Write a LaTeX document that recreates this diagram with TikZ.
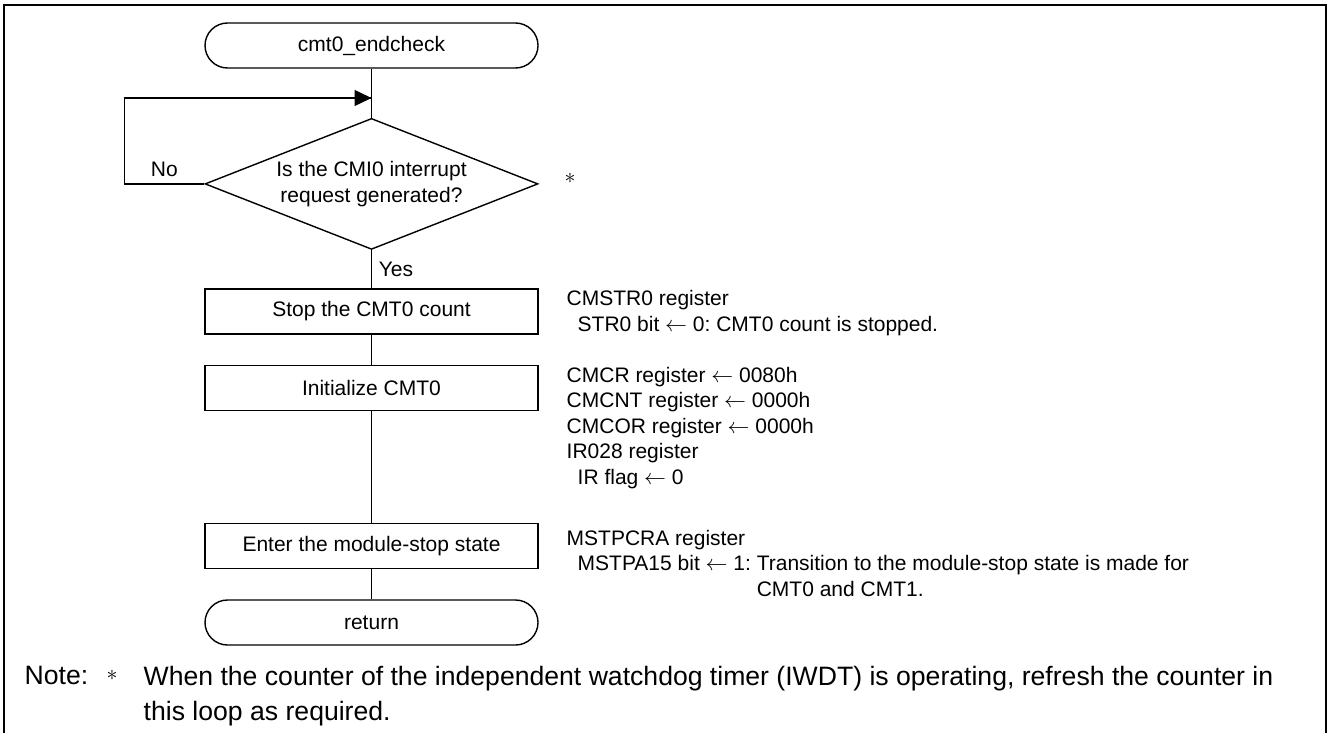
\documentclass[tikz,border=0pt]{standalone}
\usepackage{fontspec}
\setmainfont{Liberation Sans}
\frenchspacing
\usetikzlibrary{positioning, shapes.geometric, arrows.meta}

\begin{document}
\begin{tikzpicture}[x=0.5pt, y=0.5pt, node distance=15pt, line width=0.7pt,
    font=\fontsize{10.5}{12.7}\selectfont,
    term/.style={draw, rounded corners=11.25pt, minimum width=166.5pt, minimum height=22.5pt, inner sep=0pt},
    proc/.style={draw, minimum width=166.5pt, minimum height=22.5pt, inner sep=0pt},
    decision/.style={draw, diamond, aspect=2.54, minimum width=166.5pt, minimum height=65.5pt, inner sep=0pt, align=center},
    remark/.style={anchor=north west, align=left, inner sep=0pt},
    footnote/.style={remark, font=\fontsize{13.3}{17.5}\selectfont}]
			\useasboundingbox (0,0) rectangle (1328,-733);
			\draw[line width=1.3pt] (4,-5) rectangle (1326,-760);

			% Nodes
			\node (Start) [term] at (371.5,-45.5) {cmt0\_endcheck};
			\node (Check) [decision, below=24.5pt of Start] {Is the CMI0 interrupt\\request generated?};
			\node (StopCnt) [proc, below=19pt of Check] {Stop the CMT0 count};
			\node (InitCmt) [proc, below=of StopCnt] {Initialize CMT0};
			\node (ModStop) [proc, below=56pt of InitCmt] {Enter the module-stop state};
			\node (Return) [term, below=of ModStop] {return};
			\coordinate (LoopIn) at (371.5,-98);
			\node (Star) at (570,-178) {$\ast$};

			% Register notes
			\node (NoteStop) [remark] at (566,-290) {CMSTR0 register\\\hspace*{5.5pt}STR0 bit $\leftarrow$ 0: CMT0 count is stopped.};
			\node (NoteInit) [remark] at (566,-366.5) {CMCR register $\leftarrow$ 0080h\\CMCNT register $\leftarrow$ 0000h\\CMCOR register $\leftarrow$ 0000h\\IR028 register\\\hspace*{5.5pt}IR flag $\leftarrow$ 0};
			\node (NoteMod) [remark] at (566,-529.5) {MSTPCRA register\\\hspace*{5.5pt}MSTPA15 bit $\leftarrow$ 1: Transition to the module-stop state is made for\\\hspace*{5.5pt}\phantom{MSTPA15 bit $\leftarrow$ 1: }CMT0 and CMT1.};

			% Footnote
			\node (NoteLbl) [footnote] at (24,-665.5) {Note:};
			\node (NoteStar) at (112,-675) {$\ast$};
			\node (NoteText) [footnote] at (143,-665.5) {When the counter of the independent watchdog timer (IWDT) is operating, refresh the counter in\\this loop as required.};

			% Arrows
			\draw (Start) -- (Check);
			\draw (Check.west) -- ++(-40pt,0) node[midway, above] {No} |- (LoopIn);
			\draw[-{Triangle[length=8.5pt, width=8pt]}] (Check.west) -- ++(-40pt,0) |- (LoopIn);
			\draw (Check) -- (StopCnt) node[midway, right] {Yes};
			\draw (StopCnt) -- (InitCmt);
			\draw (InitCmt) -- (ModStop);
			\draw (ModStop) -- (Return);
		\end{tikzpicture}
\end{document}
